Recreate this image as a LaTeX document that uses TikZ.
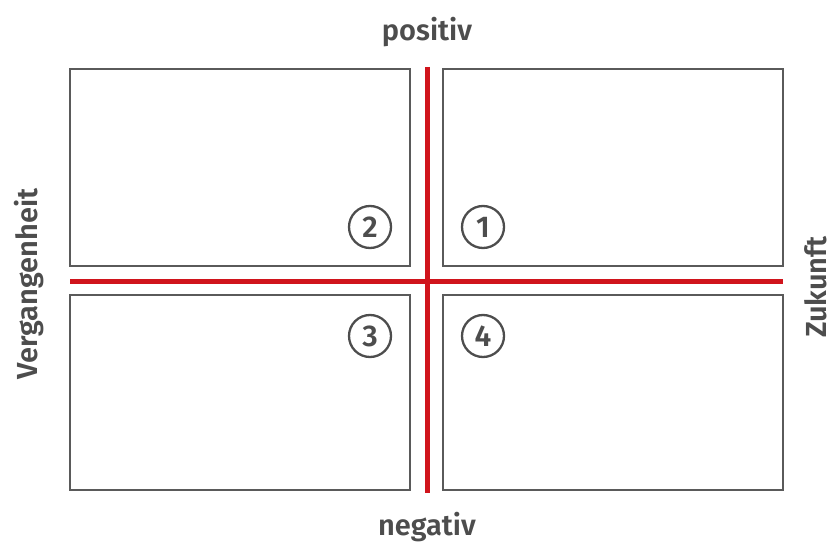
\documentclass[tikz,border=0pt]{standalone}
\usepackage{fontspec}
\setmainfont{Fira Sans}[BoldFont={Fira Sans SemiBold}]
\usetikzlibrary{positioning}
\definecolor{axisred}{HTML}{D0141C}
\definecolor{textgray}{HTML}{4D4D4D}
\definecolor{framegray}{HTML}{5A5A5A}
\begin{document}
\begin{tikzpicture}[
      x=1pt, y=-1pt,
      field/.style={draw=framegray, line width=1.3pt},
      axis/.style={draw=axisred, line width=5pt},
      lbl/.style={font=\fontsize{29}{32}\selectfont\bfseries, text=textgray, inner sep=0pt},
      num/.style={circle, draw=textgray, line width=2.3pt, minimum size=42pt, inner sep=0pt, font=\fontsize{30}{32}\selectfont\bfseries, text=textgray}
    ]
    \useasboundingbox (0,0) rectangle (834,545);
    % Fields
    \draw[field] (70,69) rectangle (410,266);
    \draw[field] (443,69) rectangle (783,266);
    \draw[field] (70,295) rectangle (410,490);
    \draw[field] (443,295) rectangle (783,490);

    % Axes
    \coordinate (top) at (427,67);
    \coordinate (bottom) at (427,493);
    \coordinate (left) at (70,281);
    \coordinate (right) at (783,281);
    \draw[axis] (top) -- (bottom);
    \draw[axis] (left) -- (right);

    % Axis labels
    \node[lbl] (pos) at (427,32) {positiv};
    \node[lbl] (neg) at (427,527) {negativ};
    \node[lbl, rotate=90] (past) at (29,284) {Vergangenheit};
    \node[lbl, rotate=90] (future) at (816,287) {Zukunft};

    % Quadrant numbers
    \node[num] (q1) at (483,227) {1};
    \node[num] (q2) at (370,227) {2};
    \node[num] (q3) at (370,336) {3};
    \node[num] (q4) at (483,336) {4};
  \end{tikzpicture}
\end{document}
